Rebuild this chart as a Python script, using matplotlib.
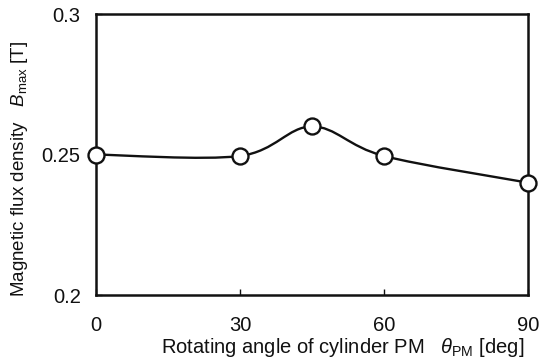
import numpy as np
import matplotlib.pyplot as plt
from matplotlib.path import Path
from matplotlib.patches import PathPatch

plt.rcParams['font.family'] = ['Liberation Sans', 'DejaVu Sans']
plt.rcParams['mathtext.fontset'] = 'custom'
plt.rcParams['mathtext.rm'] = 'Liberation Sans'
plt.rcParams['mathtext.it'] = 'Liberation Sans:italic'

angle = [0, 30, 45, 60, 90]
b_max = [0.250, 0.2495, 0.260, 0.2495, 0.240]
x_ticks = [0, 30, 60, 90]
y_ticks = [0.2, 0.25, 0.3]
y_tick_labels = ['0.2', '0.25', '0.3']


# smooth curve through the points (Catmull-Rom as cubic bezier)
def smooth_path(x, y, t=1.0 / 6):
    x = np.asarray(x, float)
    y = np.asarray(y, float)
    verts = [(x[0], y[0])]
    codes = [Path.MOVETO]
    n = len(x)
    for i in range(n - 1):
        i0 = max(i - 1, 0)
        i3 = min(i + 2, n - 1)
        c1 = (x[i] + (x[i + 1] - x[i0]) * t, y[i] + (y[i + 1] - y[i0]) * t)
        c2 = (x[i + 1] - (x[i3] - x[i]) * t, y[i + 1] - (y[i3] - y[i]) * t)
        verts += [c1, c2, (x[i + 1], y[i + 1])]
        codes += [Path.CURVE4] * 3
    return Path(verts, codes)


fig = plt.figure(figsize=(5.42, 3.62), dpi=100)
ax = fig.add_axes([0.177, 0.185, 0.797, 0.776])

ax.add_patch(PathPatch(smooth_path(angle, b_max), fill=False, color='#111111',
                       lw=1.7, zorder=2))
ax.plot(angle, b_max, 'o', ms=11.5, mfc='white', mec='#111111', mew=1.7,
        zorder=3, clip_on=False)

ax.set_xlim(0, 90)
ax.set_ylim(0.2, 0.3)
ax.set_xticks(x_ticks)
ax.set_yticks(y_ticks)
ax.set_yticklabels(y_tick_labels)
ax.tick_params(direction='in', length=4, width=1, labelsize=14.5, pad=11,
               colors='#111111')
ax.tick_params(axis='x', pad=15)
for s in ax.spines.values():
    s.set_linewidth(1.8)
    s.set_color('#111111')

ax.set_xlabel(r'Rotating angle of cylinder PM   $\theta_{\mathrm{PM}}$ [deg]',
              fontsize=14.5, color='#111111')
ax.xaxis.set_label_coords(0.57, -0.145)
ax.set_ylabel(r'Magnetic flux density   $B_{\mathrm{max}}$ [T]',
              fontsize=13.5, color='#111111')
ax.yaxis.set_label_coords(-0.152, 0.45)

fig.savefig('out.png', dpi=100)
